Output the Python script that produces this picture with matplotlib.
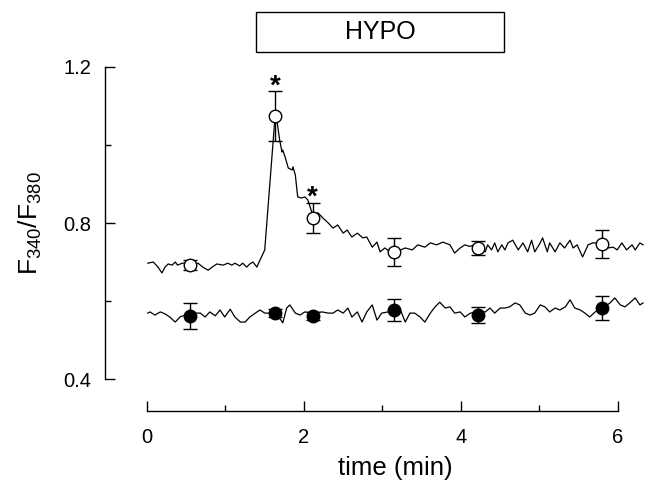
import matplotlib
matplotlib.use("Agg")
import matplotlib.pyplot as plt
from matplotlib.patches import Rectangle

plt.rcParams['font.family'] = ['Liberation Sans', 'DejaVu Sans']
plt.rcParams['mathtext.fontset'] = 'custom'
plt.rcParams['mathtext.rm'] = 'Liberation Sans'

# ---- data ----
hypo_t = [0.01, 0.08, 0.14, 0.19, 0.23, 0.27, 0.32, 0.36, 0.39, 0.45, 0.51, 0.57, 0.65, 0.71,
          0.78, 0.83, 0.89, 0.97, 1.03, 1.08, 1.12, 1.18, 1.22, 1.27, 1.31, 1.35, 1.40, 1.44,
          1.50, 1.63, 1.66, 1.69, 1.72, 1.73, 1.76, 1.80, 1.85, 1.86, 1.89, 1.92, 1.97, 2.01,
          2.05, 2.11, 2.18, 2.24, 2.31, 2.37, 2.43, 2.50, 2.55, 2.61, 2.68, 2.75, 2.80, 2.87,
          2.93, 2.97, 3.03, 3.10, 3.20, 3.29, 3.38, 3.45, 3.54, 3.61, 3.69, 3.77, 3.86, 3.92,
          3.99, 4.05, 4.11, 4.17, 4.22, 4.31, 4.34, 4.39, 4.43, 4.47, 4.52, 4.56, 4.60, 4.66,
          4.73, 4.79, 4.85, 4.90, 4.94, 5.01, 5.04, 5.10, 5.13, 5.20, 5.26, 5.32, 5.39, 5.43,
          5.48, 5.55, 5.62, 5.68, 5.80, 5.87, 5.94, 5.99, 6.05, 6.11, 6.18, 6.22, 6.28, 6.32]
hypo_ratio = [0.697, 0.700, 0.687, 0.672, 0.687, 0.695, 0.692, 0.700, 0.692, 0.697, 0.697, 0.695,
              0.697, 0.687, 0.679, 0.687, 0.695, 0.692, 0.697, 0.692, 0.697, 0.690, 0.697, 0.687,
              0.695, 0.700, 0.687, 0.705, 0.731, 1.069, 1.056, 1.013, 0.982, 0.987, 0.969, 0.941,
              0.936, 0.944, 0.923, 0.867, 0.864, 0.867, 0.859, 0.822, 0.826, 0.813, 0.800, 0.787,
              0.795, 0.774, 0.782, 0.764, 0.774, 0.762, 0.764, 0.738, 0.751, 0.726, 0.736, 0.726,
              0.728, 0.736, 0.731, 0.744, 0.738, 0.749, 0.744, 0.751, 0.744, 0.723, 0.736, 0.744,
              0.740, 0.744, 0.738, 0.726, 0.744, 0.731, 0.749, 0.726, 0.744, 0.731, 0.749, 0.756,
              0.731, 0.749, 0.726, 0.756, 0.726, 0.749, 0.762, 0.726, 0.749, 0.726, 0.749, 0.736,
              0.756, 0.736, 0.744, 0.713, 0.744, 0.749, 0.749, 0.736, 0.738, 0.731, 0.749, 0.731,
              0.744, 0.731, 0.749, 0.744]

ctrl_t = [0.01, 0.04, 0.10, 0.17, 0.23, 0.29, 0.36, 0.42, 0.55, 0.68, 0.74, 0.80, 0.87, 0.93,
          0.99, 1.06, 1.12, 1.19, 1.25, 1.31, 1.38, 1.44, 1.50, 1.62, 1.69, 1.73, 1.78, 1.82,
          1.89, 1.95, 2.01, 2.12, 2.23, 2.31, 2.37, 2.43, 2.50, 2.56, 2.61, 2.68, 2.74, 2.80,
          2.87, 2.93, 2.99, 3.07, 3.15, 3.22, 3.29, 3.35, 3.41, 3.48, 3.54, 3.61, 3.67, 3.73,
          3.80, 3.86, 3.92, 3.99, 4.05, 4.12, 4.22, 4.31, 4.37, 4.43, 4.50, 4.56, 4.62, 4.69,
          4.75, 4.82, 4.88, 4.94, 5.01, 5.07, 5.13, 5.20, 5.26, 5.33, 5.39, 5.45, 5.52, 5.58,
          5.64, 5.71, 5.80, 5.90, 5.96, 6.03, 6.09, 6.15, 6.22, 6.28, 6.32]
ctrl_ratio = [0.569, 0.572, 0.564, 0.572, 0.567, 0.559, 0.546, 0.559, 0.569, 0.569, 0.559, 0.572,
              0.562, 0.577, 0.559, 0.579, 0.559, 0.546, 0.546, 0.559, 0.569, 0.577, 0.569, 0.569,
              0.556, 0.544, 0.582, 0.590, 0.569, 0.564, 0.572, 0.569, 0.572, 0.569, 0.569, 0.577,
              0.569, 0.582, 0.559, 0.572, 0.546, 0.572, 0.590, 0.551, 0.569, 0.572, 0.577, 0.582,
              0.546, 0.569, 0.569, 0.559, 0.546, 0.569, 0.585, 0.597, 0.582, 0.585, 0.569, 0.572,
              0.559, 0.569, 0.572, 0.572, 0.582, 0.569, 0.582, 0.582, 0.585, 0.595, 0.590, 0.569,
              0.564, 0.569, 0.590, 0.585, 0.572, 0.582, 0.577, 0.585, 0.603, 0.582, 0.577, 0.569,
              0.559, 0.572, 0.582, 0.595, 0.608, 0.590, 0.585, 0.595, 0.608, 0.590, 0.595]

mark_t = [0.55, 1.63, 2.11, 3.15, 4.22, 5.80]
hypo_mean = [0.692, 1.074, 0.813, 0.726, 0.736, 0.746]
hypo_err = [0.012, 0.065, 0.038, 0.035, 0.018, 0.036]
ctrl_mean = [0.562, 0.569, 0.562, 0.577, 0.564, 0.582]
ctrl_err = [0.033, 0.010, 0.010, 0.027, 0.020, 0.030]

star_t = [1.63, 2.11]
star_y = [1.150, 0.865]

x_ticks = [0, 2, 4, 6]
x_minor = [1, 3, 5]
y_ticks = [0.4, 0.8, 1.2]
y_minor = [0.6, 1.0]
bar_label = "HYPO"
bar_range = (1.39, 4.55)

# ---- figure ----
W, H = 647, 487
fig = plt.figure(figsize=(W / 100, H / 100), dpi=100)
ax = fig.add_axes([105 / W, (H - 411) / H, 540 / W, 344 / H])
ax.set_xlim(-0.535, 6.345)
ax.set_ylim(0.318, 1.2)

ax.plot(hypo_t, hypo_ratio, color='black', lw=0.9, clip_on=False, zorder=2)
ax.plot(ctrl_t, ctrl_ratio, color='black', lw=0.9, clip_on=False, zorder=2)

ax.errorbar(mark_t, hypo_mean, yerr=hypo_err, fmt='o', ms=9, mfc='white', mec='black',
            mew=1.0, ecolor='black', elinewidth=1.0, capsize=5, capthick=1.0, zorder=3,
            clip_on=False)
ax.errorbar(mark_t, ctrl_mean, yerr=ctrl_err, fmt='o', ms=9, mfc='black', mec='black',
            mew=1.0, ecolor='black', elinewidth=1.0, capsize=5, capthick=1.0, zorder=3,
            clip_on=False)

for t, y in zip(star_t, star_y):
    ax.text(t, y, '*', ha='center', va='center', fontsize=20, fontweight='bold')

# HYPO bar
y0, y1 = 1.238, 1.341
ax.add_patch(Rectangle((bar_range[0], y0), bar_range[1] - bar_range[0], y1 - y0,
                       fill=False, ec='black', lw=1.0, clip_on=False))
ax.text((bar_range[0] + bar_range[1]) / 2, (y0 + y1) / 2, bar_label, ha='center',
        va='center', fontsize=18)

for s in ['top', 'right']:
    ax.spines[s].set_visible(False)
ax.spines['left'].set_bounds(0.4, 1.2)
ax.spines['bottom'].set_bounds(0, 6)
ax.spines['left'].set_linewidth(1.0)
ax.spines['bottom'].set_linewidth(1.0)

ax.set_xticks(x_ticks)
ax.set_xticklabels([str(v) for v in x_ticks])
ax.set_xticks(x_minor, minor=True)
ax.set_yticks(y_ticks)
ax.set_yticklabels([f"{v:.1f}" for v in y_ticks])
ax.set_yticks(y_minor, minor=True)
ax.tick_params(which='major', direction='in', length=7, width=1.0, labelsize=14.5, pad=10)
ax.tick_params(which='minor', direction='in', length=4, width=1.0)
ax.tick_params(axis='x', which='major', pad=12)

fig.text(395 / W, 1 - 468 / H, 'time (min)', ha='center', va='center', fontsize=18.5)
fig.text(30 / W, 1 - 223 / H, r'F$_{\mathregular{340}}$/F$_{\mathregular{380}}$',
         ha='center', va='center', rotation=90, fontsize=19)

fig.savefig('out.png', dpi=100)
